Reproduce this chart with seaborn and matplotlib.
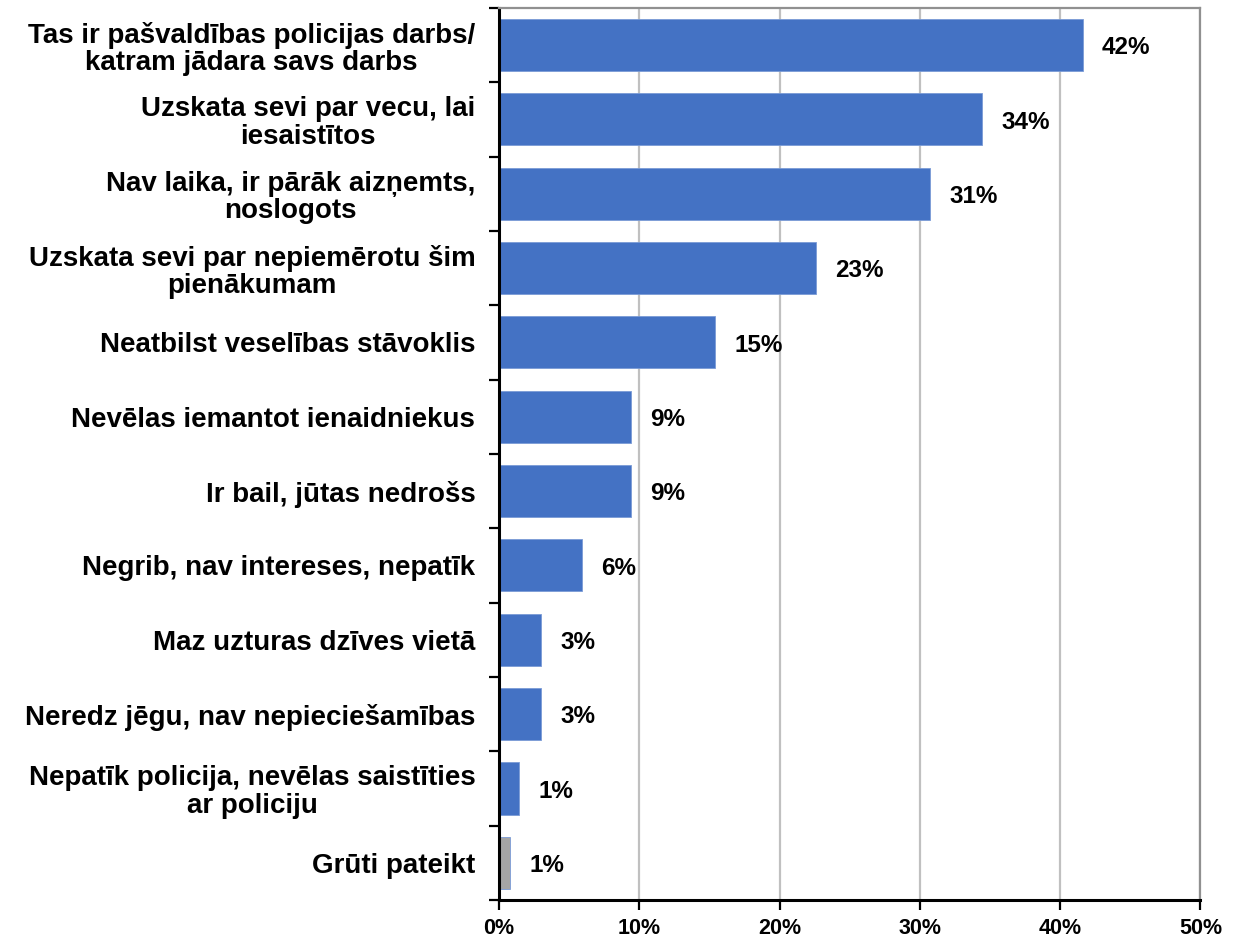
import matplotlib
matplotlib.use("Agg")
import matplotlib.pyplot as plt
from matplotlib.ticker import FixedLocator, PercentFormatter
import seaborn as sns
import pandas as pd

# Reasons for not getting involved (share of respondents, %)
categories = [
    "Tas ir pašvaldības policijas darbs/\nkatram jādara savs darbs",
    "Uzskata sevi par vecu, lai\niesaistītos",
    "Nav laika, ir pārāk aizņemts,\nnoslogots",
    "Uzskata sevi par nepiemērotu šim\npienākumam",
    "Neatbilst veselības stāvoklis",
    "Nevēlas iemantot ienaidniekus",
    "Ir bail, jūtas nedrošs",
    "Negrib, nav intereses, nepatīk",
    "Maz uzturas dzīves vietā",
    "Neredz jēgu, nav nepieciešamības",
    "Nepatīk policija, nevēlas saistīties\nar policiju",
    "Grūti pateikt",
]
values = [41.6, 34.4, 30.7, 22.6, 15.4, 9.4, 9.4, 5.9, 3.0, 3.0, 1.45, 0.8]
groups = ["reason"] * 11 + ["unsure"]
palette = {"reason": "#4472C4", "unsure": "#A5A5A5"}
x_ticks = [0, 10, 20, 30, 40, 50]

df = pd.DataFrame({"category": categories, "value": values, "group": groups})

sns.set_theme(style="white")
plt.rcParams["font.family"] = ["Liberation Sans", "DejaVu Sans"]
plt.rcParams["font.weight"] = "bold"
plt.rcParams["text.color"] = "black"
plt.rcParams["xtick.color"] = "black"
plt.rcParams["ytick.color"] = "black"

fig = plt.figure(figsize=(12.35, 9.43), dpi=100)
ax = fig.add_axes([0.404, 0.0456, 0.568, 0.946])

sns.barplot(data=df, x="value", y="category", hue="group", palette=palette,
            orient="h", width=0.70, dodge=False, legend=False, ax=ax,
            saturation=1, edgecolor="#7A9BD6", linewidth=0.6)

ax.set_xlim(0, 50)
ax.set_ylim(len(categories) - 0.5, -0.5)
ax.xaxis.set_major_locator(FixedLocator(x_ticks))
ax.xaxis.set_major_formatter(PercentFormatter(decimals=0))
ax.grid(axis="x", color="#C0C0C0", linewidth=1.6)
ax.set_axisbelow(True)
ax.set_xlabel("")
ax.set_ylabel("")

# Category ticks sit on the boundaries between bars
ax.set_yticks([i + 0.5 for i in range(-1, len(categories))], minor=True)
ax.tick_params(axis="y", which="major", length=0, pad=17, labelsize=20, labelcolor="black")
ax.tick_params(axis="y", which="minor", length=7, width=1.6, color="black", direction="out", left=True)
ax.tick_params(axis="x", which="major", length=7, width=1.6, color="black", direction="out",
               bottom=True, labelsize=15.5, pad=6, labelcolor="black")
for lbl in ax.get_yticklabels():
    lbl.set_multialignment("center")
    lbl.set_linespacing(1.08)
    lbl.set_fontweight("bold")
for lbl in ax.get_xticklabels():
    lbl.set_fontweight("bold")

for side in ["left", "bottom"]:
    ax.spines[side].set_color("black")
    ax.spines[side].set_linewidth(2.2)
for side in ["top", "right"]:
    ax.spines[side].set_color("#909090")
    ax.spines[side].set_linewidth(1.6)

# Value labels next to each bar
for i, v in enumerate(values):
    ax.annotate(f"{v:.0f}%", xy=(v, i), xytext=(14, -2), textcoords="offset points",
                ha="left", va="center", fontsize=17.5, fontweight="bold", color="black")

fig.savefig("out.png", dpi=100, facecolor="white")
